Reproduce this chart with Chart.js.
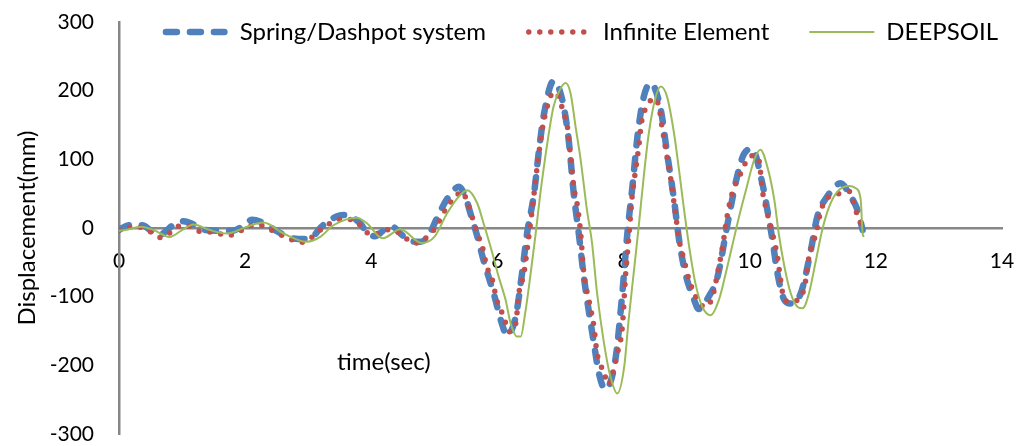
<!DOCTYPE html>
<html>
<head>
<meta charset="utf-8">
<title>Displacement time history</title>
<script src="https://cdn.jsdelivr.net/npm/chart.js@4.4.1/dist/chart.umd.min.js"></script>
<style>
    html, body { margin: 0; padding: 0; background: #ffffff; }
    #chart-wrap { position: relative; width: 1019px; height: 446px; }
</style>
</head>
<body>
<div id="chart-wrap"><canvas id="disp-chart"></canvas></div>
<script>
// Values (time in sec, displacement in mm)
const timeSpring = [0, 0.05, 0.17, 0.37, 0.52, 0.65, 0.76, 0.84, 1.03, 1.16, 1.37, 1.63, 1.8, 1.95, 2.11, 2.27, 2.53, 2.75, 2.96, 3.08,
    3.19, 3.35, 3.56, 3.67, 3.83, 3.93, 4.06, 4.19, 4.35, 4.46, 4.62, 4.78, 4.9, 5.04, 5.2, 5.39, 5.49, 5.57, 5.68, 5.78,
    5.94, 6.07, 6.15, 6.29, 6.39, 6.47, 6.58, 6.66, 6.74, 6.89, 7.03, 7.13, 7.21, 7.29, 7.37, 7.53, 7.61, 7.71, 7.87, 7.98,
    8.06, 8.14, 8.22, 8.32, 8.43, 8.59, 8.69, 8.8, 8.88, 8.98, 9.12, 9.19, 9.35, 9.49, 9.64, 9.8, 9.91, 10.04, 10.2, 10.28,
    10.36, 10.44, 10.55, 10.65, 10.81, 10.97, 11.07, 11.23, 11.44, 11.6, 11.71, 11.79];
const dispSpring = [-3, 0, 4, 4, -5, -10, -3, 3, 10, 6, -3, -4, -4, 2, 12, 8, -6, -15, -16, -12,
    0, 12, 19, 17, 6, -6, -12, -4, 1, -8, -19, -20, -12, 14, 42, 60, 46, 22, -12, -47,
    -95, -139, -156, -129, -66, -8, 50, 114, 167, 214, 186, 128, 50, -8, -71, -168, -212, -235, -192, -95,
    -8, 60, 133, 191, 211, 172, 109, 41, -17, -66, -105, -118, -100, -71, 2, 75, 108, 115, 65, 26,
    -17, -66, -105, -110, -95, -32, 16, 46, 65, 46, 26, -3];

const timeInfinite = [0, 0.1, 0.28, 0.45, 0.67, 0.81, 0.97, 1.14, 1.32, 1.52, 1.7, 1.86, 2.0, 2.19, 2.37, 2.54, 2.71, 2.89, 3.05, 3.19,
    3.35, 3.53, 3.71, 3.87, 3.99, 4.14, 4.3, 4.46, 4.62, 4.75, 4.86, 4.99, 5.07, 5.19, 5.31, 5.44, 5.52, 5.6, 5.68, 5.76,
    5.83, 5.92, 5.99, 6.1, 6.18, 6.29, 6.34, 6.42, 6.47, 6.55, 6.63, 6.71, 6.79, 6.89, 6.97, 7.05, 7.11, 7.16, 7.21, 7.27,
    7.32, 7.37, 7.45, 7.53, 7.58, 7.61, 7.69, 7.77, 7.82, 7.9, 7.98, 8.03, 8.08, 8.14, 8.19, 8.24, 8.29, 8.37, 8.48, 8.56,
    8.61, 8.67, 8.75, 8.83, 8.88, 8.96, 9.04, 9.12, 9.17, 9.3, 9.41, 9.49, 9.57, 9.64, 9.72, 9.86, 9.94, 10.07, 10.15, 10.2,
    10.28, 10.36, 10.44, 10.49, 10.55, 10.65, 10.76, 10.87, 10.94, 11.05, 11.13, 11.26, 11.42, 11.58, 11.68, 11.76, 11.81];
const dispInfinite = [-3, 0, 2, -3, -14, -7, 3, 2, -6, -6, -11, -8, 0, 5, -1, -9, -16, -21, -14, -3,
    7, 13, 12, 0, -10, -7, -2, -8, -20, -22, -15, -3, 9, 29, 43, 53, 38, 16, -8, -27,
    -56, -76, -105, -129, -151, -139, -95, -66, -32, 26, 89, 143, 177, 198, 191, 167, 147, 104, 60, 31,
    -8, -66, -105, -144, -183, -192, -212, -228, -214, -183, -144, -71, -17, 50, 84, 118, 157, 177, 189, 177,
    147, 114, 70, 16, -17, -47, -76, -95, -105, -115, -100, -66, -27, 16, 50, 80, 96, 106, 97, 55,
    21, -8, -42, -76, -105, -107, -105, -85, -42, -8, 26, 46, 50, 53, 26, 7, -3];

const timeDeepsoil = [0, 0.1, 0.35, 0.55, 0.8, 1.0, 1.18, 1.44, 1.71, 2.03, 2.29, 2.61, 2.98, 3.19, 3.4, 3.77, 3.93, 4.18, 4.46, 4.8,
    5.0, 5.2, 5.38, 5.52, 5.68, 5.78, 5.89, 6.02, 6.13, 6.21, 6.31, 6.37, 6.44, 6.52, 6.6, 6.68, 6.79, 6.89, 7.0, 7.08,
    7.16, 7.24, 7.32, 7.42, 7.5, 7.58, 7.69, 7.79, 7.9, 8.01, 8.08, 8.16, 8.24, 8.32, 8.4, 8.51, 8.59, 8.69, 8.8, 8.88,
    8.96, 9.04, 9.14, 9.25, 9.38, 9.51, 9.62, 9.72, 9.83, 9.94, 10.07, 10.17, 10.28, 10.39, 10.46, 10.55, 10.65, 10.76, 10.84, 10.94,
    11.05, 11.15, 11.26, 11.39, 11.58, 11.68, 11.76, 11.79, 11.81];
const dispDeepsoil = [-4, -3, 2, -3, -13, -3, 5, -3, -8, 2, 8, -8, -20, -13, 4, 15, 7, -15, -2, -22,
    -13, 21, 45, 55, 36, 7, -27, -71, -105, -139, -158, -158, -124, -71, -13, 50, 123, 177, 203, 211,
    196, 147, 99, 26, -22, -95, -168, -216, -241, -202, -134, -66, 2, 75, 138, 191, 206, 191, 138, 84,
    26, -27, -81, -115, -127, -105, -66, -27, 16, 55, 99, 114, 89, 41, -8, -56, -95, -115, -117, -95,
    -47, -3, 31, 53, 61, 58, 41, -8, -13];

const seriesLabels = ['Spring/Dashpot system', 'Infinite Element', 'DEEPSOIL'];
const xTicks = [0, 2, 4, 6, 8, 10, 12, 14];
const yTicks = [-300, -200, -100, 0, 100, 200, 300];

const FONT = 'Lato, "Liberation Sans", sans-serif';
const TICK_SIZE = 21;
const TITLE_SIZE = 24;
const LEGEND_SIZE = 24;
const AXIS_GREY = '#878787';

// pair up time and displacement arrays into {x, y} points
function toPoints(times, values) {
    return times.map((t, i) => ({ x: t, y: values[i] }));
}

// Excel style legend drawn across the top of the plot area
const topLegend = {
    id: 'topLegend',
    afterDraw(chart) {
        const ctx = chart.ctx;
        const area = chart.chartArea;
        const sampleW = 65, gap = 12, spacing = 40;
        ctx.save();
        ctx.font = `${LEGEND_SIZE}px ${FONT}`;
        const items = chart.data.datasets.map(ds => ({ ds, w: ctx.measureText(ds.label).width }));
        const total = items.reduce((s, it) => s + sampleW + gap + it.w, 0) + spacing * (items.length - 1);
        let x = area.right - 4 - total;
        const y = area.top + 10;
        items.forEach(({ ds, w }) => {
            const inset = ds.borderCapStyle === 'round' ? ds.borderWidth / 2 : 0;
            ctx.beginPath();
            ctx.strokeStyle = ds.borderColor;
            ctx.lineWidth = ds.borderWidth;
            ctx.lineCap = ds.borderCapStyle || 'butt';
            ctx.setLineDash(ds.borderDash || []);
            ctx.moveTo(x + inset, y);
            ctx.lineTo(x + sampleW - inset, y);
            ctx.stroke();
            ctx.setLineDash([]);
            ctx.fillStyle = '#000';
            ctx.textBaseline = 'middle';
            ctx.textAlign = 'left';
            ctx.fillText(ds.label, x + sampleW + gap, y);
            x += sampleW + gap + w + spacing;
        });
        ctx.restore();
    }
};

// x axis title sits inside the plot, under the curves
const timeTitle = {
    id: 'timeTitle',
    afterDraw(chart) {
        const ctx = chart.ctx;
        ctx.save();
        ctx.font = `${TITLE_SIZE}px ${FONT}`;
        ctx.fillStyle = '#000';
        ctx.textAlign = 'center';
        ctx.textBaseline = 'middle';
        ctx.fillText('time(sec)', chart.scales.x.getPixelForValue(4.2), chart.scales.y.getPixelForValue(-195));
        ctx.restore();
    }
};

const ctx = document.getElementById('disp-chart').getContext('2d');

new Chart(ctx, {
    type: 'line',
    data: {
        datasets: [{
            label: seriesLabels[0],
            data: toPoints(timeSpring, dispSpring),
            borderColor: '#4f81bd',
            borderWidth: 6.5,
            borderDash: [11, 13],
            borderCapStyle: 'round',
            order: 3
        }, {
            label: seriesLabels[1],
            data: toPoints(timeInfinite, dispInfinite),
            borderColor: '#c0504d',
            borderWidth: 5.5,
            borderDash: [0, 11],
            borderCapStyle: 'round',
            order: 2
        }, {
            label: seriesLabels[2],
            data: toPoints(timeDeepsoil, dispDeepsoil),
            borderColor: '#9bbb59',
            borderWidth: 2,
            order: 1
        }]
    },
    options: {
        responsive: true,
        maintainAspectRatio: false,
        animation: false,
        devicePixelRatio: 1,
        elements: {
            point: { radius: 0 },
            line: { cubicInterpolationMode: 'monotone', fill: false }
        },
        layout: {
            padding: { top: 22, right: 17, bottom: 12, left: 0 }
        },
        scales: {
            x: {
                type: 'linear',
                position: { y: 0 },
                min: 0,
                max: 14,
                afterBuildTicks: scale => { scale.ticks = xTicks.map(v => ({ value: v })); },
                afterFit: scale => {
                    // axis sits on y = 0, so it should not take any room of its own
                    scale.height = 0;
                    scale.paddingLeft = 0;
                    scale.paddingRight = 0;
                },
                ticks: {
                    color: '#000',
                    padding: 21,
                    maxRotation: 0,
                    font: { family: FONT, size: TICK_SIZE }
                },
                grid: { display: false, drawTicks: false },
                border: { display: true, color: AXIS_GREY, width: 2.5 }
            },
            y: {
                type: 'linear',
                min: -300,
                max: 300,
                afterBuildTicks: scale => { scale.ticks = yTicks.map(v => ({ value: v })); },
                afterFit: scale => {
                    scale.width = 119;
                    scale.paddingTop = 0;
                    scale.paddingBottom = 0;
                },
                ticks: {
                    color: '#000',
                    padding: 25,
                    font: { family: FONT, size: TICK_SIZE }
                },
                title: {
                    display: true,
                    text: 'Displacement(mm)',
                    color: '#000',
                    padding: { top: 13, bottom: 0 },
                    font: { family: FONT, size: TITLE_SIZE }
                },
                grid: { display: false, drawTicks: false },
                border: { display: true, color: AXIS_GREY, width: 2.5 }
            }
        },
        plugins: {
            legend: { display: false },
            tooltip: { enabled: false }
        }
    },
    plugins: [topLegend, timeTitle]
});
</script>
</body>
</html>
